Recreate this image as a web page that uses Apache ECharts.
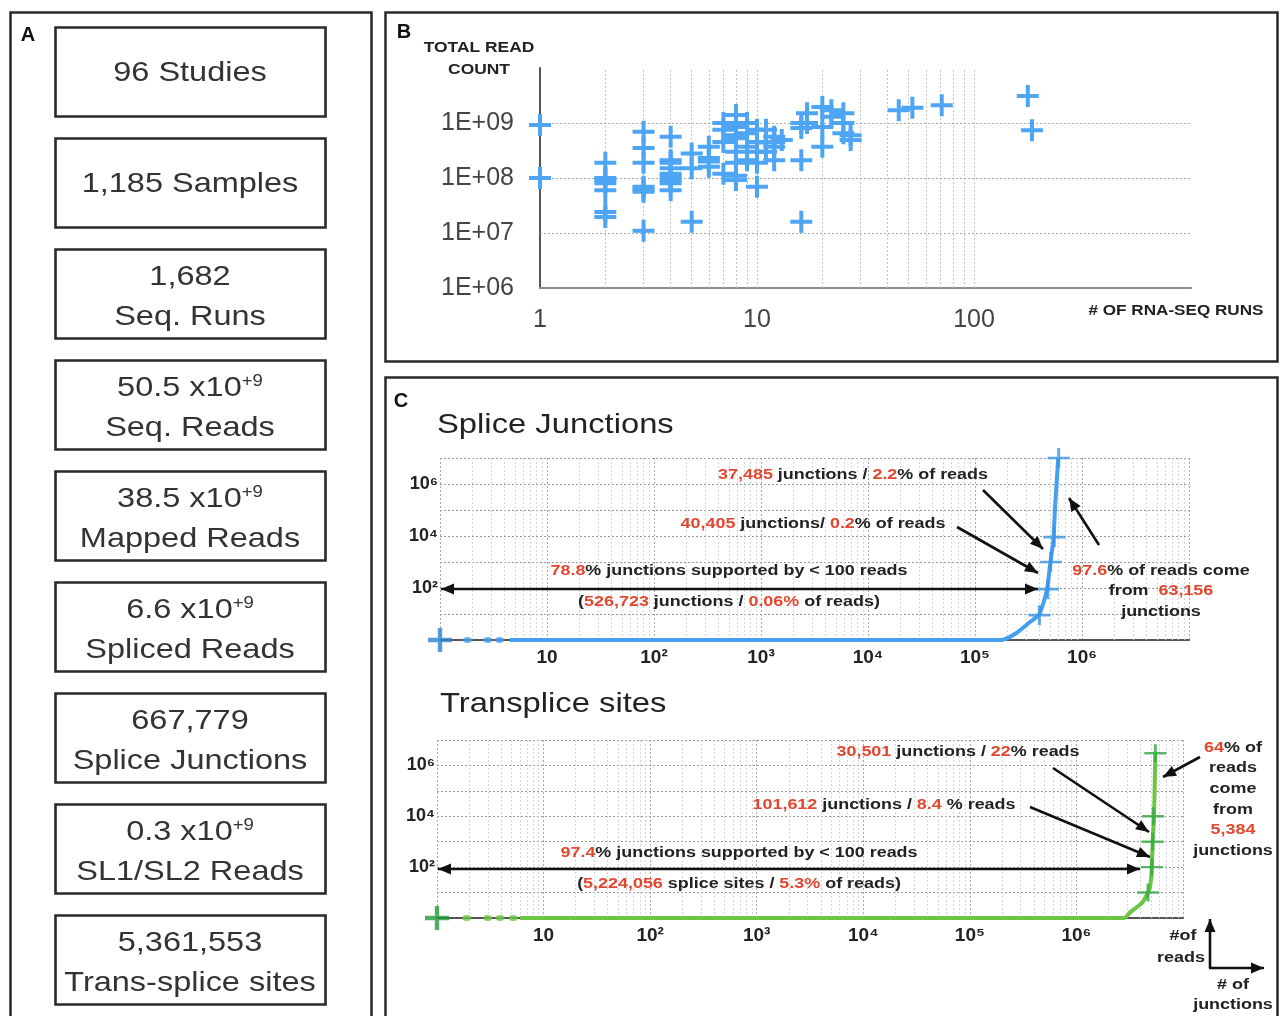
<!DOCTYPE html>
<html><head><meta charset="utf-8">
<script src="https://cdn.jsdelivr.net/npm/echarts@6/dist/echarts.min.js"></script>
<style>html,body{margin:0;padding:0;background:#fff}#c{width:1280px;height:1016px}</style>
</head><body><div id="c"></div>
<script>
// ---------- DATA ----------
// Panel A summary boxes
const boxLines = [
  ['96 Studies'], ['1,185 Samples'], ['1,682', 'Seq. Runs'],
  ['50.5 x10^+9', 'Seq. Reads'], ['38.5 x10^+9', 'Mapped Reads'], ['6.6 x10^+9', 'Spliced Reads'],
  ['667,779', 'Splice Junctions'], ['0.3 x10^+9', 'SL1/SL2 Reads'], ['5,361,553', 'Trans-splice sites']
];
// Panel B: runs per study vs total read count
const bRuns = [1,1, 2,2,2,2,2,2,2, 3,3,3,3,3,3,3, 4,4,4,4,4,4,4,4,4, 5,5,5, 6,6,6,6, 7,7,7,7,
  8,8,8,8,8,8,8,8, 9,9,9,9, 10,10,10,10,10, 11,11,11, 12,12,12,12, 13, 16,16,16,16, 17,17,
  20,20,20, 22,22, 25,25,25, 27,27, 45, 52, 71, 177, 185];
const bReads = [9.2e8,1.0e8, 1.9e8,1.0e8,9.2e7,8.0e7,6.0e7,2.4e7,1.95e7, 6.9e8,3.5e8,1.9e8,6.9e7,6.2e7,5.6e7,1.1e7,
  5.6e8,2.1e8,1.9e8,1.5e8,1.2e8,1.05e8,9.2e7,8.0e7,6.0e7, 2.8e8,1.5e8,1.6e7, 3.7e8,2.3e8,2.0e8,1.6e8,
  1.0e9,7.5e8,4.5e8,1.2e8, 1.4e9,8.5e8,6.0e8,5.3e8,3.0e8,1.9e8,1.1e8,9.2e7, 1.0e9,6.5e8,3.7e8,2.1e8,
  7.5e8,4.5e8,3.0e8,1.9e8,6.9e7, 7.5e8,4.4e8,3.0e8, 5.6e8,4.5e8,3.7e8,2.1e8, 4.9e8, 1.0e9,8.1e8,2.1e8,1.6e7,
  1.5e9,1.0e9, 1.95e9,8.5e8,3.7e8, 1.7e9,1.3e9, 1.5e9,1.0e9,6.5e8, 6.0e8,4.9e8, 1.7e9, 1.9e9, 2.1e9, 3.1e9, 7.4e8];
const bXTicks = {1:'1', 10:'10', 100:'100'};
const bYTicks = {6:'1E+06', 7:'1E+07', 8:'1E+08', 9:'1E+09'};

// Panel C top: splice junctions (x = # junctions, y = # reads)
const sjStartX = [1, 4.5], sjStartY = [1, 1];
const sjDotX = [1.8, 2.8, 3.6], sjDotY = [1, 1, 1];
const sjX = [4.5, 1.78e5, 2.46e5, 3.26e5, 4.0e5, 4.7e5, 5.0e5, 5.4e5, 5.6e5, 6.0e5];
const sjY = [1, 1, 1.9, 4.9, 10, 84, 640, 7000, 1.3e5, 1e7];
const sjMarkX = [4.0e5, 4.8e5, 5.1e5, 5.5e5, 6.05e5];
const sjMarkY = [9, 90, 1000, 9000, 1e7];
// Panel C bottom: trans-splice sites
const tsStartX = [1, 6], tsStartY = [1, 1];
const tsDotX = [1.9, 3.0, 3.9, 5.2], tsDotY = [1, 1, 1, 1];
const tsX = [6, 2.8e6, 3.2e6, 4.2e6, 4.9e6, 5.1e6, 5.2e6, 5.35e6, 5.5e6];
const tsY = [1, 1, 1.7, 4.3, 16.6, 100, 1170, 9500, 3.5e6];
const tsMarkX = [4.7e6, 5.1e6, 5.2e6, 5.25e6, 5.5e6];
const tsMarkY = [10, 100, 1000, 1e4, 3e6];
const supDigits = {2:'²', 3:'³', 4:'⁴', 5:'⁵', 6:'⁶'};

// ---------- HELPERS ----------
const FONT = '"Liberation Sans", Arial, Helvetica, sans-serif';
const zip = (a, b) => a.map((v, i) => [v, b[i]]);
const PLUS = 'path://M9,0H13V9H22V13H13V22H9V13H0V9H9Z';
const PLUS_T = 'path://M9.5,0H12.5V9.5H22V12.5H12.5V22H9.5V12.5H0V9.5H9.5Z';
const RED = '#e2472f';
const exp10 = v => Math.round(Math.log10(v));

function txt(x, y, text, size, opt) {
  opt = opt || {};
  const weight = opt.weight || 'normal';
  const font = weight + ' ' + size + 'px ' + FONT;
  return {
    type: 'text', x: x, y: y, scaleX: opt.sx || 1, z: 100,
    style: {
      text: text, font: font, fill: opt.color || '#222',
      align: opt.align || 'center', verticalAlign: 'middle',
      textAlign: opt.align || 'center', textVerticalAlign: 'middle',
      rich: {
        r: {fill: RED, font: font},
        sup: {fill: opt.color || '#222', font: 'normal 16px ' + FONT, verticalAlign: 'top', padding: [0, 0, 12, 0]}
      }
    }
  };
}
function arrow(x1, y1, x2, y2, both) {
  const out = [];
  const L = 13, W = 5.5;
  const head = (ax, ay, bx, by) => {
    const a = Math.atan2(by - ay, bx - ax), c = Math.cos(a), s = Math.sin(a);
    return {type: 'polygon', z: 101, shape: {points: [[bx, by], [bx - L*c + W*s, by - L*s - W*c], [bx - L*c - W*s, by - L*s + W*c]]}, style: {fill: '#111'}};
  };
  out.push({type: 'line', z: 101, shape: {x1: x1, y1: y1, x2: x2, y2: y2}, style: {stroke: '#111', lineWidth: 2.6}});
  out.push(head(x1, y1, x2, y2));
  if (both) out.push(head(x2, y2, x1, y1));
  return out;
}
function rect(x, y, w, h, lw) {
  return {type: 'rect', z: 90, shape: {x: x, y: y, width: w, height: h}, style: {fill: 'none', stroke: '#2a2a2a', lineWidth: lw || 2.5}};
}

// ---------- GRAPHIC ----------
const g = [];
g.push(rect(10.5, 12.5, 361, 1015, 2.5));
g.push(rect(385.5, 12.5, 892, 349, 2.5));
g.push(rect(385.5, 377.5, 892, 650, 2.5));
g.push(txt(28, 35, 'A', 20, {weight: 'bold', color: '#111'}));
g.push(txt(404, 32, 'B', 20, {weight: 'bold', color: '#111'}));
g.push(txt(401, 401, 'C', 20, {weight: 'bold', color: '#111'}));
boxLines.forEach((lines, i) => {
  const top = 27 + i * 111;
  g.push(rect(55.5, top + 0.5, 270, 89, 2.6));
  const fmt = s => s.replace(/\^(\+9)/, '{sup|$1}');
  if (lines.length === 1) g.push(txt(190, top + 46, fmt(lines[0]), 28, {sx: 1.16, color: '#333'}));
  else {
    g.push(txt(190, top + 28, fmt(lines[0]), 28, {sx: 1.16, color: '#333'}));
    g.push(txt(190, top + 68, fmt(lines[1]), 28, {sx: 1.16, color: '#333'}));
  }
});
// Panel B axis titles
g.push(txt(479, 48, 'TOTAL READ', 14.5, {weight: 'bold', sx: 1.2}));
g.push(txt(479, 70, 'COUNT', 14.5, {weight: 'bold', sx: 1.2}));
g.push(txt(1176, 311, '# OF RNA-SEQ RUNS', 14.5, {weight: 'bold', sx: 1.18}));
// Panel C titles
g.push(txt(437, 425, 'Splice Junctions', 28, {align: 'left', sx: 1.17}));
g.push(txt(440, 704, 'Transplice sites', 28, {align: 'left', sx: 1.17}));
// Panel C top annotations
const A = {weight: 'bold', sx: 1.28};
g.push(txt(853, 475, '{r|37,485} junctions / {r|2.2}% of reads', 14, A));
g.push(txt(813, 524, '{r|40,405} junctions/ {r|0.2}% of reads', 14, A));
g.push(txt(729, 571, '{r|78.8}% junctions supported by < 100 reads', 14, A));
g.push(txt(729, 602, '({r|526,723} junctions / {r|0.06%} of reads)', 14, A));
g.push(txt(1161, 571, '{r|97.6}% of reads come', 14, A));
g.push(txt(1161, 591, 'from  {r|63,156}', 14, A));
g.push(txt(1161, 612, 'junctions', 14, A));
g.push(...arrow(983, 490, 1043, 549));
g.push(...arrow(957, 527, 1038, 573));
g.push(...arrow(441, 589, 1038, 589, true));
g.push(...arrow(1099, 545, 1069, 498));
// Panel C bottom annotations
g.push(txt(958, 752, '{r|30,501} junctions / {r|22}% reads', 14, A));
g.push(txt(884, 805, '{r|101,612} junctions / {r|8.4} % reads', 14, A));
g.push(txt(739, 853, '{r|97.4}% junctions supported by < 100 reads', 14, A));
g.push(txt(739, 884, '({r|5,224,056} splice sites / {r|5.3%} of reads)', 14, A));
['{r|64}% of', 'reads', 'come', 'from', '{r|5,384}', 'junctions'].forEach((s, i) => g.push(txt(1233, 748 + i * 20.6, s, 14, A)));
g.push(...arrow(1053, 768, 1149, 832));
g.push(...arrow(1030, 807, 1150, 857));
g.push(...arrow(438, 869, 1140, 869, true));
g.push(...arrow(1200, 757, 1163, 777));
g.push(txt(1183, 936, '#of', 14, A));
g.push(txt(1181, 958, 'reads', 14, A));
g.push(txt(1233, 985, '# of', 14, A));
g.push(txt(1233, 1005, 'junctions', 14, A));
g.push(...arrow(1210, 968, 1210, 919));
g.push(...arrow(1209, 968, 1264, 968));

// ---------- AXES ----------
const minorVals = [];
for (let k = 0; k <= 6; k++) for (let m = 2; m <= 9; m++) minorVals.push(m * Math.pow(10, k));
const dash = (c, w) => ({color: c, width: w || 1, type: [2, 2]});
const cXAxis = (gi) => ({
  type: 'log', logBase: 10, gridIndex: gi, min: 1, max: 1e7, splitNumber: 7,
  axisLine: {show: true, lineStyle: {color: '#555', width: 2}}, axisTick: {show: false},
  splitLine: {show: true, lineStyle: dash('#a8a8a8')},
  axisLabel: {fontSize: 19, fontWeight: 'bold', color: '#222', fontFamily: FONT, margin: 8,
    formatter: v => { const e = exp10(v); return (e < 1 || e > 6) ? '' : (e === 1 ? '10' : '10' + supDigits[e]); }}
});
const cYAxis = (gi) => ({
  type: 'log', logBase: 10, gridIndex: gi, min: 1, max: 1e7, splitNumber: 7,
  axisLine: {show: false}, axisTick: {show: false},
  splitLine: {show: true, lineStyle: dash('#999')},
  axisLabel: {fontSize: 18, fontWeight: 'bold', color: '#222', fontFamily: FONT, margin: 2,
    formatter: v => { const e = exp10(v); return (e === 2 || e === 4 || e === 6) ? '10' + supDigits[e] : ''; }}
});
const bMinor = [2,3,4,5,6,7,8,9,10,20,30,40,50,60,70,80,90,100];
const gridHelper = (xi, vals, extraY) => ({
  type: 'scatter', xAxisIndex: xi, yAxisIndex: xi, data: [], symbolSize: 0, silent: true, z: 1,
  markLine: {silent: true, z: 1, symbol: ['none', 'none'], label: {show: false}, animation: false,
    lineStyle: dash(xi === 0 ? '#c4c4c4' : '#d6d6d6'),
    data: vals.map(v => ({xAxis: v})).concat((extraY || []).map(v => ({yAxis: v, lineStyle: dash('#aaa')})))}
});

const option = {
  animation: false,
  backgroundColor: '#fff',
  grid: [
    {left: 540, top: 68, width: 651, height: 220},
    {left: 440, top: 458, width: 749, height: 182},
    {left: 437, top: 740, width: 746, height: 178}
  ],
  xAxis: [
    {type: 'log', logBase: 10, gridIndex: 0, min: 1, max: 1000, splitNumber: 3,
      axisLine: {show: true, lineStyle: {color: '#8c8c8c', width: 2}}, axisTick: {show: false}, splitLine: {show: false},
      axisLabel: {fontSize: 25, color: '#444', fontFamily: FONT, margin: 20, formatter: v => bXTicks[Math.round(v)] || ''}},
    cXAxis(1), cXAxis(2)
  ],
  yAxis: [
    {type: 'log', logBase: 10, gridIndex: 0, min: 1e6, max: 1e10, splitNumber: 4,
      axisLine: {show: true, lineStyle: {color: '#555', width: 2}}, axisTick: {show: false}, splitLine: {show: false},
      axisLabel: {fontSize: 25, color: '#444', fontFamily: FONT, margin: 26, formatter: v => bYTicks[exp10(v)] || ''}},
    cYAxis(1), cYAxis(2)
  ],
  graphic: {elements: g},
  series: [
    Object.assign(gridHelper(0, bMinor, [1e7, 1e8, 1e9]), {data: [[1, 1e6]]}),
    {type: 'scatter', xAxisIndex: 0, yAxisIndex: 0, data: zip(bRuns, bReads), symbol: PLUS, symbolSize: 22,
      itemStyle: {color: '#4ea5f4', opacity: 1}, z: 3},
    Object.assign(gridHelper(1, minorVals), {data: [[1, 1]]}),
    {type: 'line', xAxisIndex: 1, yAxisIndex: 1, data: zip(sjStartX, sjStartY), showSymbol: false, lineStyle: {color: '#555', width: 1.6}, z: 3},
    {type: 'line', xAxisIndex: 1, yAxisIndex: 1, data: zip(sjX, sjY), showSymbol: false, smooth: 0.2, lineStyle: {color: '#45a0f0', width: 4}, z: 4},
    {type: 'scatter', xAxisIndex: 1, yAxisIndex: 1, data: zip(sjDotX, sjDotY), symbol: 'circle', symbolSize: [9, 6], itemStyle: {color: '#45a0f0'}, z: 5},
    {type: 'scatter', xAxisIndex: 1, yAxisIndex: 1, data: zip(sjMarkX, sjMarkY), symbol: PLUS_T, symbolSize: [22, 20], itemStyle: {color: '#3a95e6'}, z: 6},
    {type: 'scatter', xAxisIndex: 1, yAxisIndex: 1, data: [[1, 1]], symbol: PLUS, symbolSize: 24, itemStyle: {color: '#2a80d6'}, z: 6},
    Object.assign(gridHelper(2, minorVals), {data: [[1, 1]]}),
    {type: 'line', xAxisIndex: 2, yAxisIndex: 2, data: zip(tsStartX, tsStartY), showSymbol: false, lineStyle: {color: '#555', width: 1.6}, z: 3},
    {type: 'line', xAxisIndex: 2, yAxisIndex: 2, data: zip(tsX, tsY), showSymbol: false, smooth: 0.2, lineStyle: {color: '#6cc644', width: 4}, z: 4},
    {type: 'scatter', xAxisIndex: 2, yAxisIndex: 2, data: zip(tsDotX, tsDotY), symbol: 'circle', symbolSize: [9, 6], itemStyle: {color: '#6cc644'}, z: 5},
    {type: 'scatter', xAxisIndex: 2, yAxisIndex: 2, data: zip(tsMarkX, tsMarkY), symbol: PLUS_T, symbolSize: [22, 18], itemStyle: {color: '#35a844'}, z: 6},
    {type: 'scatter', xAxisIndex: 2, yAxisIndex: 2, data: [[1, 1]], symbol: PLUS, symbolSize: 24, itemStyle: {color: '#22993a'}, z: 6}
  ]
};
const chart = echarts.init(document.getElementById('c'), null, {renderer: 'canvas'});
chart.setOption(option);
</script>
</body></html>
